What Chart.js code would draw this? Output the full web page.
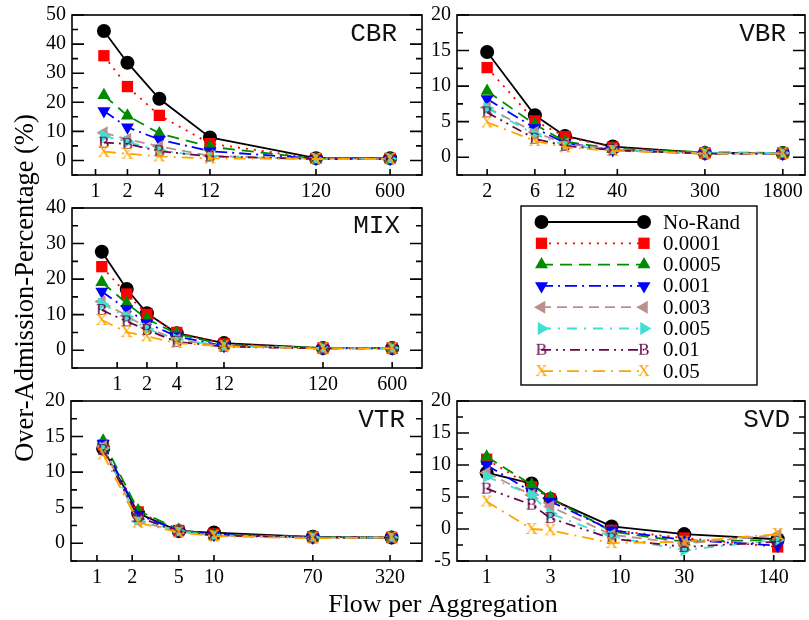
<!DOCTYPE html>
<html>
<head>
<meta charset="utf-8">
<title>Over-Admission-Percentage</title>
<script src="https://cdn.jsdelivr.net/npm/chart.js@4.4.0/dist/chart.umd.min.js"></script>
<style>
    html, body { margin: 0; padding: 0; background: #fff; }
    #figure { position: relative; width: 809px; height: 620px; }
    #figure canvas { position: absolute; left: 0; top: 0; }
</style>
</head>
<body>
<div id="figure">
    <canvas id="cbrChart" width="809" height="620"></canvas>
    <canvas id="vbrChart" width="809" height="620"></canvas>
    <canvas id="mixChart" width="809" height="620"></canvas>
    <canvas id="vtrChart" width="809" height="620"></canvas>
    <canvas id="svdChart" width="809" height="620"></canvas>
</div>
<script>
// Series names, in key order
const seriesLabels = ['No-Rand', '0.0001', '0.0005', '0.001', '0.003', '0.005', '0.01', '0.05'];

// CBR
const cbrFlows = [1.2, 2, 4, 12, 120, 600];
const cbrTicks = [1, 2, 4, 12, 120, 600];
const cbrRates = [
    [44.5, 33.6, 21.2, 7.9, 0.8, 0.8],
    [36.0, 25.4, 15.5, 5.8, 0.7, 0.7],
    [22.4, 15.4, 9.3, 4.7, 0.6, 0.7],
    [17.0, 11.4, 7.2, 3.2, 0.6, 0.6],
    [9.5, 7.3, 4.8, 1.6, 0.6, 0.6],
    [8.4, 6.4, 3.4, 1.3, 0.6, 0.6],
    [6.1, 5.7, 3.2, 1.4, 0.5, 0.5],
    [3.0, 2.3, 1.4, 0.7, 0.5, 0.5]
];

// VBR
const vbrFlows = [2, 6, 12, 36, 300, 1800];
const vbrTicks = [2, 6, 12, 40, 300, 1800];
const vbrRates = [
    [14.8, 5.9, 3.0, 1.5, 0.6, 0.6],
    [12.6, 5.1, 2.9, 1.4, 0.6, 0.6],
    [9.3, 4.6, 2.2, 1.2, 0.7, 0.6],
    [8.2, 4.1, 2.0, 1.0, 0.5, 0.5],
    [7.0, 3.5, 1.9, 1.1, 0.5, 0.6],
    [6.9, 3.2, 1.7, 1.0, 0.6, 0.6],
    [6.3, 2.6, 1.6, 1.0, 0.5, 0.5],
    [4.9, 2.3, 1.4, 0.9, 0.5, 0.5]
];

// MIX
const mixFlows = [0.7, 1.25, 2, 4, 12, 120, 600];
const mixTicks = [1, 2, 4, 12, 120, 600];
const mixRates = [
    [27.7, 17.2, 10.4, 4.8, 2.0, 0.6, 0.6],
    [23.5, 15.8, 10.1, 5.0, 1.8, 0.6, 0.6],
    [19.1, 13.2, 8.8, 4.6, 1.5, 0.6, 0.6],
    [16.5, 11.6, 7.6, 3.9, 1.2, 0.5, 0.5],
    [13.7, 9.7, 6.3, 3.0, 1.1, 0.5, 0.5],
    [13.0, 9.4, 6.0, 3.0, 1.2, 0.6, 0.6],
    [11.3, 8.1, 5.7, 2.4, 1.0, 0.5, 0.5],
    [8.5, 5.1, 3.9, 2.0, 1.1, 0.5, 0.5]
];

// VTR
const vtrFlows = [1.13, 2.25, 5, 10, 70, 330];
const vtrTicks = [1, 2, 5, 10, 70, 320];
const vtrRates = [
    [13.3, 4.2, 1.7, 1.5, 0.9, 0.8],
    [13.8, 4.4, 1.8, 1.3, 0.9, 0.8],
    [14.4, 4.6, 1.9, 1.2, 0.9, 0.8],
    [14.0, 4.0, 1.8, 1.2, 0.8, 0.8],
    [13.6, 3.1, 1.6, 1.1, 0.8, 0.8],
    [13.4, 3.3, 1.7, 1.1, 0.8, 0.8],
    [13.1, 3.7, 1.6, 1.1, 0.8, 0.8],
    [12.5, 2.9, 1.5, 1.0, 0.7, 0.8]
];

// SVD
const svdFlows = [1, 2.17, 3, 8.6, 30, 150];
const svdTicks = [1, 3, 10, 30, 140];
const svdRates = [
    [8.8, 7.1, 4.7, 0.4, -0.8, -1.6],
    [10.9, 6.6, 4.7, -0.2, -1.4, -2.8],
    [11.3, 6.9, 4.9, -0.4, -2.0, -1.7],
    [10.0, 5.8, 4.3, -0.2, -1.7, -2.6],
    [8.8, 5.3, 3.5, -0.9, -2.3, -0.9],
    [8.2, 5.3, 2.4, -1.2, -3.3, -1.7],
    [6.3, 3.8, 1.7, -1.5, -2.8, -2.0],
    [4.3, 0.0, -0.2, -2.2, -2.0, -0.8]
];

const SERIF = '"Liberation Serif", "Times New Roman", serif';
const MONO = '"Liberation Mono", "Courier New", monospace';

// Line and marker styles per series
const seriesColors = ['#000000', '#ff0000', '#008b00', '#0000ff', '#bc8f8f', '#40e0d0', '#670748', '#ffa500'];
const seriesDashes = [[], [2, 6], [12, 7], [12, 5, 2, 5], [10, 6], [10, 7, 2, 7], [10, 5, 2, 5, 2, 5], [12, 6, 2, 6]];

// Letter markers ("B", "X") rendered into small canvases
function letterMark(ch, color) {
    const c = document.createElement('canvas');
    c.width = 18;
    c.height = 18;
    const g = c.getContext('2d');
    g.font = '17px ' + SERIF;
    g.fillStyle = color;
    g.textAlign = 'center';
    g.textBaseline = 'middle';
    g.fillText(ch, 9, 9.5);
    return c;
}

const seriesMarks = [
    { style: 'circle', radius: 7, rotation: 0 },
    { style: 'rect', radius: 8, rotation: 0 },
    { style: 'triangle', radius: 7.5, rotation: 0 },
    { style: 'triangle', radius: 7.5, rotation: 180 },
    { style: 'triangle', radius: 7.5, rotation: 270 },
    { style: 'triangle', radius: 7.5, rotation: 90 },
    { style: letterMark('B', seriesColors[6]), radius: 8, rotation: 0 },
    { style: letterMark('X', seriesColors[7]), radius: 8, rotation: 0 }
];

function buildDatasets(flows, rates) {
    return rates.map((vals, i) => ({
        label: seriesLabels[i],
        data: flows.map((f, j) => ({ x: f, y: vals[j] })),
        borderColor: seriesColors[i],
        backgroundColor: seriesColors[i],
        borderWidth: 1.8,
        borderDash: seriesDashes[i],
        pointStyle: seriesMarks[i].style,
        rotation: seriesMarks[i].rotation,
        pointRadius: seriesMarks[i].radius,
        pointBackgroundColor: seriesColors[i],
        pointBorderWidth: 0,
        tension: 0,
        order: rates.length - i
    }));
}

// Box, inward tick marks and the panel name
const framePlugin = {
    id: 'frame',
    afterDraw(chart, args, opts) {
        const { ctx, chartArea: a, scales: { x, y } } = chart;
        ctx.save();
        ctx.strokeStyle = '#000';
        ctx.lineWidth = 1.6;
        ctx.beginPath();
        y.ticks.forEach(t => {
            const py = y.getPixelForValue(t.value);
            const len = Math.abs(t.value % opts.major) < 1e-6 ? 12 : 6;
            ctx.moveTo(a.left, py);
            ctx.lineTo(a.left + len, py);
            ctx.moveTo(a.right, py);
            ctx.lineTo(a.right - len, py);
        });
        x.ticks.forEach(t => {
            const px = x.getPixelForValue(t.value);
            ctx.moveTo(px, a.bottom);
            ctx.lineTo(px, a.bottom - 6);
        });
        ctx.stroke();
        ctx.strokeRect(a.left, a.top, a.right - a.left, a.bottom - a.top);

        ctx.fillStyle = '#111';
        ctx.font = '26px ' + MONO;
        ctx.textAlign = 'right';
        ctx.textBaseline = 'alphabetic';
        ctx.fillText(opts.name, a.right - opts.dx, a.top + opts.dy);
        ctx.restore();
    }
};

function drawMark(ctx, mark, color, x, y) {
    ctx.fillStyle = color;
    Chart.helpers.drawPoint(ctx, {
        pointStyle: mark.style,
        rotation: mark.rotation,
        radius: mark.radius,
        borderWidth: 0
    }, x, y);
}

// Key box with a line sample and markers at both ends
const keyPlugin = {
    id: 'key',
    afterDraw(chart) {
        const ctx = chart.ctx;
        const box = { left: 521, top: 206, right: 757, bottom: 385 };
        ctx.save();
        ctx.strokeStyle = '#000';
        ctx.lineWidth = 1.4;
        ctx.strokeRect(box.left, box.top, box.right - box.left, box.bottom - box.top);
        seriesLabels.forEach((label, i) => {
            const rowY = 222 + i * 21.3;
            ctx.strokeStyle = seriesColors[i];
            ctx.lineWidth = 1.8;
            ctx.setLineDash(seriesDashes[i]);
            ctx.beginPath();
            ctx.moveTo(541, rowY);
            ctx.lineTo(644, rowY);
            ctx.stroke();
            ctx.setLineDash([]);
            drawMark(ctx, seriesMarks[i], seriesColors[i], 541.5, rowY);
            drawMark(ctx, seriesMarks[i], seriesColors[i], 644, rowY);
            ctx.fillStyle = '#000';
            ctx.font = '21px ' + SERIF;
            ctx.textAlign = 'left';
            ctx.textBaseline = 'middle';
            ctx.fillText(label, 663, rowY + 1);
        });
        ctx.restore();
    }
};

// Shared axis titles
const titlePlugin = {
    id: 'titles',
    afterDraw(chart) {
        const ctx = chart.ctx;
        ctx.save();
        ctx.fillStyle = '#000';
        ctx.textAlign = 'center';
        ctx.textBaseline = 'alphabetic';
        ctx.font = '26px ' + SERIF;
        ctx.fillText('Flow per Aggregation', 443, 612);
        ctx.translate(33, 288);
        ctx.rotate(-Math.PI / 2);
        ctx.font = '26.5px ' + SERIF;
        ctx.fillText('Over-Admission-Percentage (%)', 0, 0);
        ctx.restore();
    }
};

const AXIS_W = 50;
const AXIS_H = 30;
const tickFont = { family: SERIF, size: 20 };

function makePanel(id, p, extraPlugins) {
    const [left, top, right, bottom] = p.box;
    return new Chart(document.getElementById(id), {
        type: 'line',
        data: { datasets: buildDatasets(p.flows, p.rates) },
        options: {
            responsive: false,
            animation: false,
            events: [],
            layout: {
                autoPadding: false,
                padding: { left: left - AXIS_W, top: top, right: 809 - right, bottom: 620 - bottom - AXIS_H }
            },
            plugins: {
                legend: { display: false },
                tooltip: { enabled: false },
                frame: { name: p.name, dx: p.nameDx, dy: p.nameDy, major: p.yMajor }
            },
            scales: {
                x: {
                    type: 'logarithmic',
                    min: p.xRange[0],
                    max: p.xRange[1],
                    bounds: 'data',
                    grid: { display: false, drawTicks: false },
                    border: { display: false },
                    afterBuildTicks: s => { s.ticks = p.ticks.map(v => ({ value: v })); },
                    afterFit: s => { s.height = AXIS_H; s.paddingLeft = 0; s.paddingRight = 0; },
                    ticks: {
                        autoSkip: false,
                        maxRotation: 0,
                        padding: 5,
                        color: '#000',
                        font: tickFont,
                        callback: v => String(v)
                    }
                },
                y: {
                    type: 'linear',
                    min: p.yRange[0],
                    max: p.yRange[1],
                    grid: { display: false, drawTicks: false },
                    border: { display: false },
                    afterFit: s => { s.width = AXIS_W; s.paddingTop = 0; s.paddingBottom = 0; },
                    ticks: {
                        stepSize: p.yMinor,
                        autoSkip: false,
                        padding: 6,
                        color: '#000',
                        font: tickFont,
                        callback: v => (Math.abs(v % p.yMajor) < 1e-6 ? String(v) : '')
                    }
                }
            }
        },
        plugins: [framePlugin].concat(extraPlugins || [])
    });
}

makePanel('cbrChart', {
    box: [72, 15, 422, 175], flows: cbrFlows, ticks: cbrTicks, rates: cbrRates,
    xRange: [0.6, 1200], yRange: [-5, 50], yMajor: 10, yMinor: 5,
    name: 'CBR', nameDx: 25, nameDy: 26
});

makePanel('vbrChart', {
    box: [457, 15, 805, 175], flows: vbrFlows, ticks: vbrTicks, rates: vbrRates,
    xRange: [1, 3000], yRange: [-2.5, 20], yMajor: 5, yMinor: 2.5,
    name: 'VBR', nameDx: 19, nameDy: 26
});

makePanel('mixChart', {
    box: [72, 208, 422, 368], flows: mixFlows, ticks: mixTicks, rates: mixRates,
    xRange: [0.35, 1200], yRange: [-5, 40], yMajor: 10, yMinor: 5,
    name: 'MIX', nameDx: 22, nameDy: 25
}, [keyPlugin]);

makePanel('vtrChart', {
    box: [71, 401, 422, 561], flows: vtrFlows, ticks: vtrTicks, rates: vtrRates,
    xRange: [0.6, 600], yRange: [-2.5, 20], yMajor: 5, yMinor: 2.5,
    name: 'VTR', nameDx: 17, nameDy: 26
}, [titlePlugin]);

makePanel('svdChart', {
    box: [457, 401, 805, 561], flows: svdFlows, ticks: svdTicks, rates: svdRates,
    xRange: [0.6, 240], yRange: [-5, 20], yMajor: 5, yMinor: 2.5,
    name: 'SVD', nameDx: 15, nameDy: 26
});
</script>
</body>
</html>
